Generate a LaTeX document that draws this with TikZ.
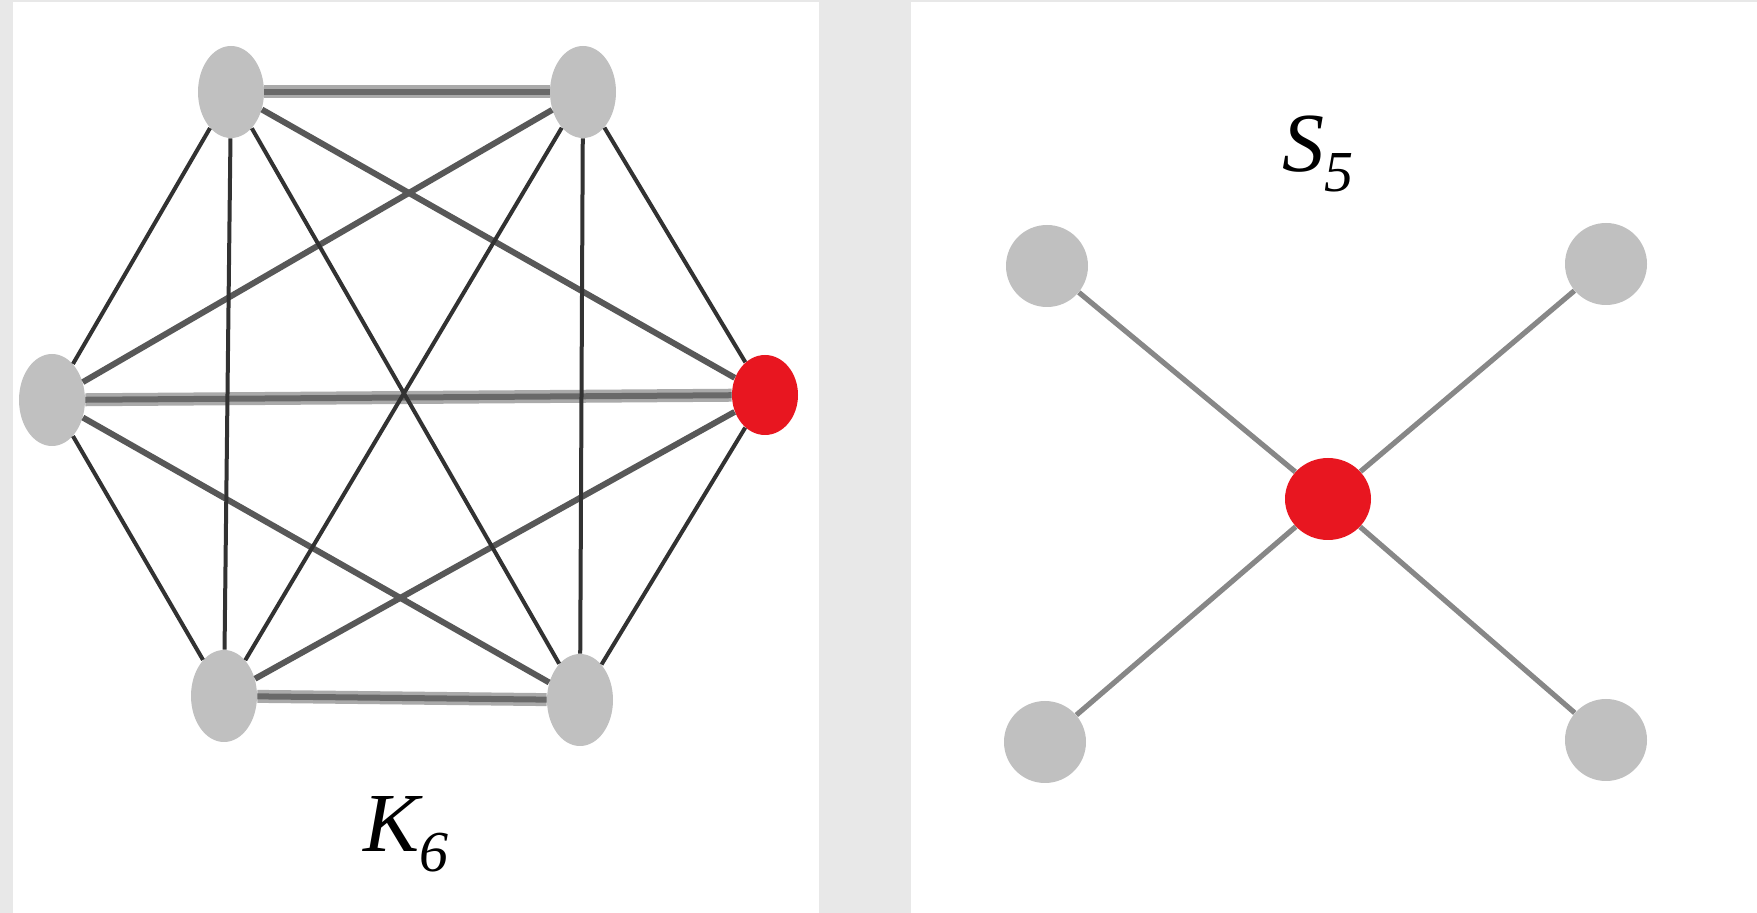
\documentclass[tikz,border=0pt]{standalone}
\usepackage{fontspec}
\setmainfont{Liberation Serif}
\usepackage{tikz}
\usetikzlibrary{shapes.geometric}
\definecolor{PanelGrey}{RGB}{232,232,232}
\definecolor{NodeGrey}{RGB}{192,192,192}
\definecolor{HubRed}{RGB}{232,22,32}
\definecolor{EdgeCore}{RGB}{105,105,105}
\definecolor{EdgeHalo}{RGB}{170,170,170}
\definecolor{EdgeMid}{RGB}{88,88,88}
\definecolor{EdgeDark}{RGB}{50,50,50}
\definecolor{SpokeGrey}{RGB}{135,135,135}
\newcommand{\gsub}[1]{\raisebox{-10pt}{\fontsize{29}{29}\selectfont #1}}

\begin{document}
\begin{tikzpicture}[
  x=0.5pt, y=-0.5pt,
  vtx/.style={ellipse, fill=NodeGrey, inner sep=0pt, minimum width=33pt, minimum height=46pt},
  hub/.style={ellipse, fill=HubRed, inner sep=0pt, minimum width=33pt, minimum height=40pt},
  leaf/.style={circle, fill=NodeGrey, inner sep=0pt, minimum size=41pt},
  heavy/.style={draw=EdgeCore, line width=3pt, preaction={draw=EdgeHalo, line width=6.5pt}},
  mid/.style={draw=EdgeMid, line width=3pt},
  thin/.style={draw=EdgeDark, line width=2pt},
  spoke/.style={draw=SpokeGrey, line width=2.6pt},
  gname/.style={font=\fontsize{42}{48}\selectfont\itshape, inner sep=0pt},
]
\useasboundingbox (0,0) rectangle (1757,913);
% Panels
\fill[PanelGrey] (0,0) rectangle (1757,913);
\fill[white] (13,2) rectangle (819,913);
\fill[white] (911,2) rectangle (1757,913);

% Left panel: K6
\node[vtx] (tl) at (231,92) {};
\node[vtx] (tr) at (583,92) {};
\node[vtx] (l)  at (52,400) {};
\node[hub] (r)  at (765,395) {};
\node[vtx] (bl) at (224,696) {};
\node[vtx] (br) at (580,700) {};

\draw[heavy] (tl) -- (tr);
\draw[heavy] (bl) -- (br);
\draw[heavy] (l) -- (r);
\draw[mid] (l) -- (tr);
\draw[mid] (l) -- (br);
\draw[mid] (tl) -- (r);
\draw[mid] (bl) -- (r);
\draw[thin] (tl) -- (bl);
\draw[thin] (tr) -- (br);
\draw[thin] (tl) -- (br);
\draw[thin] (tr) -- (bl);
\draw[thin] (tl) -- (l);
\draw[thin] (l) -- (bl);
\draw[thin] (tr) -- (r);
\draw[thin] (r) -- (br);

\node[gname, anchor=base west] (k6) at (363,852) {K\gsub{6}};

% Right panel: S5
\node[hub, minimum width=43pt, minimum height=41pt] (centre) at (1328,499) {};
\node[leaf] (s1) at (1047,266) {};
\node[leaf] (s2) at (1606,264) {};
\node[leaf] (s3) at (1045,742) {};
\node[leaf] (s4) at (1606,740) {};

\draw[spoke] (centre) -- (s1);
\draw[spoke] (centre) -- (s2);
\draw[spoke] (centre) -- (s3);
\draw[spoke] (centre) -- (s4);

\node[gname, anchor=base west] (s5) at (1282,172) {S\gsub{5}};

\end{tikzpicture}
\end{document}
